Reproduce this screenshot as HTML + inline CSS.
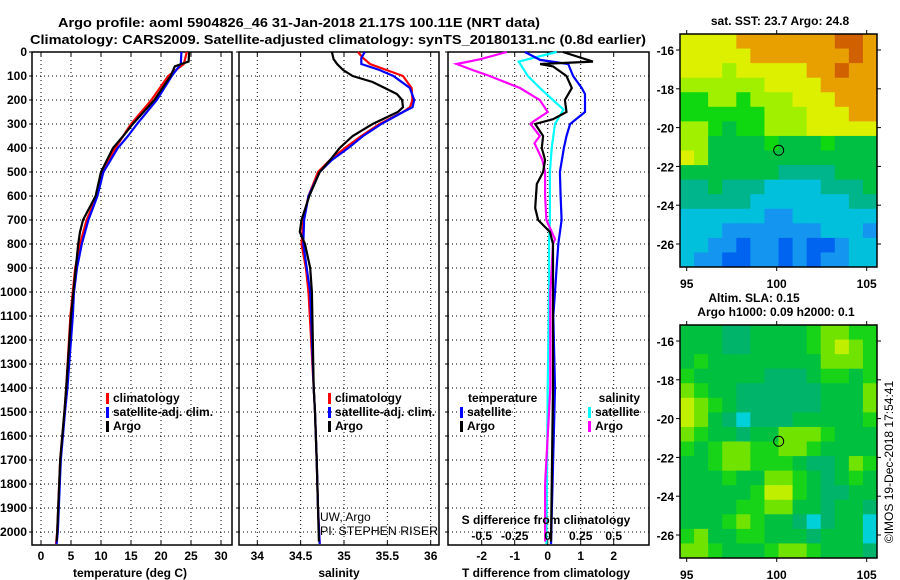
<!DOCTYPE html>
<html><head><meta charset="utf-8"><style>
body{margin:0;background:#fff;}
svg{display:block;font-family:"Liberation Sans",sans-serif;}
.b{font-weight:bold;font-size:13px;}
</style></head><body>
<svg id="c" width="900" height="580" viewBox="0 0 900 580" xmlns="http://www.w3.org/2000/svg">
<rect width="900" height="580" fill="#fff"/>
<text x="299" y="27" class="b" font-size="14" text-anchor="middle" textLength="482" lengthAdjust="spacingAndGlyphs">Argo profile: aoml 5904826_46 31-Jan-2018 21.17S 100.11E (NRT data)</text>
<text x="338" y="44" class="b" font-size="14" text-anchor="middle" textLength="616" lengthAdjust="spacingAndGlyphs">Climatology: CARS2009. Satellite-adjusted climatology: synTS_20180131.nc (0.8d earlier)</text>
<g id="layer"></g>
</svg>
<script>
// ---- depth axis ----
const depthTicks=[0,100,200,300,400,500,600,700,800,900,1000,1100,1200,1300,1400,1500,1600,1700,1800,1900,2000];
// ---- temperature panel ----
const tTicks=[0,5,10,15,20,25,30];
const tDepthClim=[0,50,100,200,300,350,400,500,600,700,800,900,1000,1100,1400,1500,1700,2000,2050];
const tClim=[24.3,23.8,21.2,18.4,15,13.7,12.4,10.1,9.3,7.6,6.5,5.7,5.3,4.9,4.2,3.9,3.2,2.7,2.5];
const tSat=[23.4,23.3,21.8,19.3,16,14.5,12.8,10.4,9.4,7.9,6.8,6.0,5.5,5.3,4.4,4.0,3.3,2.8,2.6];
const tDepthArgo=[0,40,50,60,100,200,300,350,400,500,600,700,750,800,900,1000,1100,1400,1500,1700,2000,2040];
const tArgo=[24.7,24.6,23.4,22.3,21.6,18.9,15.3,13.7,12,10,9.1,7,6.5,6.2,5.8,5.4,5.0,4.2,3.9,3.2,2.7,2.6];
// ---- salinity panel ----
const sTicks=[34,34.5,35,35.5,36];
const sDepth=[0,25,50,75,100,150,200,230,250,300,350,400,450,500,600,700,800,900,1000,1400,1500,1700,1900,2050];
const sClim=[35.16,35.22,35.30,35.49,35.68,35.78,35.79,35.76,35.68,35.41,35.20,35.01,34.84,34.70,34.59,34.53,34.51,34.56,34.59,34.65,34.665,34.685,34.70,34.72];
const sSat=[35.24,35.20,35.20,35.41,35.57,35.76,35.81,35.79,35.68,35.43,35.22,35.05,34.86,34.72,34.59,34.54,34.53,34.57,34.61,34.65,34.665,34.685,34.70,34.72];
const sDepthArgo=[0,30,50,75,100,125,175,200,230,250,300,350,400,450,500,600,700,750,800,900,1000,1400,1500,1700,1900,2040];
const sArgo=[34.86,34.88,34.92,34.99,35.10,35.33,35.61,35.67,35.68,35.62,35.33,35.10,34.95,34.84,34.72,34.60,34.51,34.49,34.55,34.61,34.63,34.65,34.665,34.685,34.70,34.71];
// ---- difference panel ----
const dtTicks=[-2,-1,0,1,2];
const dsTicks=[-0.5,-0.25,0,0.25,0.5];
const dsTickLabels=["-0.5","-0.25","0","0.25","0.5"];
const dDepthSatT=[0,33,50,100,150,175,250,300,350,400,500,600,700,800,900,1000,1100,1400,2050];
const dSatT=[-0.69,-0.23,0.62,0.77,1.03,1.13,1.13,0.68,0.57,0.49,0.37,0.39,0.42,0.32,0.27,0.22,0.17,0.22,0.1];
const dDepthArgoT=[0,40,50,60,100,150,200,250,280,300,350,400,450,500,550,650,700,750,800,1000,1400,2040];
const dArgoT=[0.46,1.37,-0.23,0.16,0.57,0.73,0.52,0.57,0.16,-0.38,-0.14,-0.18,-0.08,-0.14,-0.33,-0.38,-0.29,0.07,0.16,0.16,0.16,0.1];
const dDepthSatS=[0,40,100,150,200,240,300,400,500,700,800,1000,1400,2050];
const dSatS=[0.068,-0.22,-0.15,-0.06,0.04,0.12,0.055,0.03,0.017,0.017,0.01,0.01,0.0,-0.01];
const dDepthArgoS=[0,30,50,75,100,150,200,250,290,300,350,380,450,500,600,700,780,800,900,1000,1400,1800,2040];
const dArgoS=[-0.31,-0.51,-0.69,-0.57,-0.44,-0.21,-0.06,0.0,-0.11,-0.13,-0.06,-0.10,-0.04,-0.02,-0.02,-0.01,0.055,0.04,0.03,0.02,0.02,-0.02,-0.02];
// ---- maps ----
const lonTicks=[95,100,105];
const latTicks=[-16,-18,-20,-22,-24,-26];
const sstGrid=[
[8,8,8,8,9,9,9,9,9,9,9,10,10,9],
[8,8,8,8,8,9,9,9,9,9,9,9,10,9],
[8,8,8,7,8,8,8,8,8,9,9,10,9,9],
[7,7,7,7,7,7,8,8,8,8,9,9,9,9],
[6,6,7,7,6,7,7,7,8,8,8,9,9,9],
[6,6,6,6,6,6,7,7,7,8,8,8,9,9],
[7,7,6,5,6,6,7,7,7,8,8,8,8,8],
[7,7,5,5,5,5,6,5,5,5,6,5,5,5],
[8,7,5,5,5,5,5,5,5,5,5,5,5,5],
[5,5,5,5,5,5,5,4,4,4,4,5,5,5],
[4,4,5,4,4,4,3,3,3,3,4,4,4,5],
[4,4,4,4,4,3,3,3,3,3,3,3,4,4],
[3,3,3,3,3,3,2,2,3,3,3,3,3,3],
[3,3,3,2,2,2,2,2,2,2,3,3,3,2],
[3,3,2,2,1,2,2,1,2,1,1,2,3,3],
[3,2,2,1,1,2,2,1,2,1,2,2,3,3]];
const slaGrid=[
[5,5,5,4,4,5,5,5,5,6,7,7,6,6],
[5,5,5,4,4,5,5,5,5,6,7,8,7,6],
[5,6,5,5,5,5,5,5,5,5,7,7,7,6],
[6,5,5,5,5,5,4,4,4,5,6,6,5,6],
[7,6,5,5,4,4,4,4,4,4,5,5,5,7],
[8,7,6,5,4,4,4,4,4,4,5,5,5,7],
[8,7,5,4,3,4,4,4,5,5,5,5,5,6],
[7,6,5,5,4,5,5,7,7,7,6,5,5,5],
[6,5,6,7,7,6,6,7,7,6,5,5,5,5],
[5,5,6,7,7,6,6,6,5,4,4,5,7,6],
[5,5,5,6,5,5,7,7,6,5,4,5,6,5],
[5,5,5,5,5,6,8,8,6,5,4,4,5,5],
[5,5,5,5,6,6,7,7,5,5,4,5,5,4],
[5,5,5,6,7,6,5,5,4,3,4,5,5,3],
[6,7,5,5,6,6,5,5,5,4,5,5,5,3],
[7,7,6,5,5,5,6,7,7,6,5,5,5,4]];
const floatLon=100.11, floatLat=-21.17;

const NS='http://www.w3.org/2000/svg';
const L=document.getElementById('layer');
function mk(tag,at,parent){const e=document.createElementNS(NS,tag);for(const k in at)e.setAttribute(k,at[k]);(parent||L).appendChild(e);return e;}
function txt(x,y,s,at){const e=mk('text',Object.assign({x:x,y:y,'font-size':12,'font-weight':'bold'},at||{}));e.textContent=s;return e;}

const Y0=52, Y1=545;
const yD=d=>Y0+0.24*d;
const xT=t=>41+6*t;
const xS=s=>257.3+86.7*(s-34);
const xDT=v=>547.7+33*v;
const xDS=v=>547.7+132*v;

function panel(x0,x1,name){
  const r=mk('rect',{x:x0,y:Y0,width:x1-x0,height:Y1-Y0,fill:'none',stroke:'#000','stroke-width':1.5});
  
  
  depthTicks.forEach(d=>{ if(d>0){ const g=mk('line',{x1:x0,x2:x1,y1:yD(d),y2:yD(d),stroke:'#000','stroke-width':1,'stroke-dasharray':'1,3'});
    
    }
    mk('line',{x1:x0-3,x2:x0,y1:yD(d),y2:yD(d),stroke:'#000'});});
}
function vgrid(vals,fx){vals.forEach(v=>{const g=mk('line',{x1:fx(v),x2:fx(v),y1:Y0,y2:Y1,stroke:'#000','stroke-width':1,'stroke-dasharray':'1,3'});
  
  
  mk('line',{x1:fx(v),x2:fx(v),y1:Y0,y2:Y0+4,stroke:'#000'});mk('line',{x1:fx(v),x2:fx(v),y1:Y1-4,y2:Y1,stroke:'#000'});});}
function line(ds,vs,fx,col,name){const p=ds.map((d,i)=>fx(vs[i]).toFixed(1)+','+yD(d).toFixed(1)).join(' ');
  const e=mk('polyline',{points:p,fill:'none',stroke:col,'stroke-width':2.2,'stroke-linejoin':'miter'});
  
  }

// panel 1
panel(32,232,'temperature-panel');
vgrid(tTicks,xT);
depthTicks.forEach(d=>{const s=String(d);const at={'text-anchor':'end'};if(s.length===4){at.textLength=27;at.lengthAdjust='spacingAndGlyphs';}
  const t=txt(27,yD(d)+4,s,at);
  
  });
tTicks.forEach(v=>{const t=txt(xT(v),560,String(v),{'text-anchor':'middle'});
  
  });
line(tDepthClim,tClim,xT,'#f00','temperature-climatology-line');
line(tDepthClim,tSat,xT,'#00f','temperature-satellite-line');
line(tDepthArgo,tArgo,xT,'#000','temperature-argo-line');
let t1=txt(130,577,'temperature (deg C)',{'text-anchor':'middle'});



// panel 2
panel(239,439,'salinity-panel');
vgrid(sTicks,xS);
sTicks.forEach(v=>{const t=txt(xS(v),560,String(v),{'text-anchor':'middle'});
  
  });
line(sDepth,sClim,xS,'#f00','salinity-climatology-line');
line(sDepth,sSat,xS,'#00f','salinity-satellite-line');
line(sDepthArgo,sArgo,xS,'#000','salinity-argo-line');
let t2=txt(339,577,'salinity',{'text-anchor':'middle'});


let c1=txt(320,521,'UW, Argo',{'font-weight':'normal','font-size':12});


let c2=txt(320,535,'PI: STEPHEN RISER',{'font-weight':'normal','font-size':12,textLength:118,lengthAdjust:'spacingAndGlyphs'});



// legends panels 1 & 2
function leg(x,y,col,s,name){mk('rect',{x:x,y:y-9,width:3,height:11,fill:col});
  const t=txt(x+7,y,s,{'font-size':12});
  
  }
[[106,'temperature'],[328,'salinity']].forEach(([x,p])=>{
  leg(x,402,'#f00','climatology',p+'-legend-climatology');
  leg(x,416,'#00f','satellite-adj. clim.',p+'-legend-satellite');
  leg(x,430,'#000','Argo',p+'-legend-argo');});

// panel 3
panel(448,649,'difference-panel');
vgrid(dtTicks,xDT);
line(dDepthSatS,dSatS,xDS,'#0ff','salinity-satellite-diff-line');
line(dDepthArgoS,dArgoS,xDS,'#f0f','salinity-argo-diff-line');
line(dDepthSatT,dSatT,xDT,'#00f','temperature-satellite-diff-line');
line(dDepthArgoT,dArgoT,xDT,'#000','temperature-argo-diff-line');
dtTicks.forEach(v=>{const t=txt(xDT(v),560,String(v),{'text-anchor':'middle'});
  
  });
dsTicks.forEach((v,i)=>{const t=txt(xDS(v),540,dsTickLabels[i],{'text-anchor':'middle'});
  
  });
let t3=txt(546,577,'T difference from climatology',{'text-anchor':'middle'});


let t4=txt(546,524,'S difference from climatology',{'text-anchor':'middle'});


let t5=txt(468,402,'temperature');


let t6=txt(640,402,'salinity',{'text-anchor':'end'});


leg(460,416,'#00f','satellite','diff-legend-t-satellite');
leg(460,430,'#000','Argo','diff-legend-t-argo');
leg(588,416,'#0ff','satellite','diff-legend-s-satellite');
leg(588,430,'#f0f','Argo','diff-legend-s-argo');

// maps
const palSST=['#0038c8','#0064f0','#1496f0','#00c0dc','#00b48c','#00c044','#10d810','#a0f000','#dcf000','#e8a000','#d06000'];
const palSLA=['#0038c8','#0064f0','#1496f0','#00d0d8','#00b46a','#00c040','#18d418','#70e400','#c0f000','#e8e800','#e8a000'];
function map(top,grid,name,pal){
  const mx0=680,mx1=877,my0=top,my1=top+233;
  const xL=lon=>776.7+18*(lon-100);
  const yL=lat=>top+16+19.4*(-16-lat);
  const rows=grid.length, cols=grid[0].length;
  const cw=(mx1-mx0)/cols, ch=(my1-my0)/rows;
  grid.forEach((row,r)=>row.forEach((v,c)=>{
    const e=mk('rect',{x:(mx0+c*cw).toFixed(2),y:(my0+r*ch).toFixed(2),width:(cw+0.5).toFixed(2),height:(ch+0.5).toFixed(2),fill:pal[v]});
    
    }));
  const f=mk('rect',{x:mx0,y:my0,width:mx1-mx0,height:my1-my0,fill:'none',stroke:'#000','stroke-width':1.5});
  
  
  lonTicks.forEach(l=>{mk('line',{x1:xL(l),x2:xL(l),y1:my0-4,y2:my0,stroke:'#000'});mk('line',{x1:xL(l),x2:xL(l),y1:my1,y2:my1+4,stroke:'#000'});
    const t=txt(xL(l),my1+21,String(l),{'text-anchor':'middle'});
    
    });
  latTicks.forEach(l=>{mk('line',{x1:mx0-4,x2:mx0,y1:yL(l),y2:yL(l),stroke:'#000'});mk('line',{x1:mx1,x2:mx1+4,y1:yL(l),y2:yL(l),stroke:'#000'});
    const t=txt(674,yL(l)+5,String(l),{'text-anchor':'end'});
    
    });
  const c=mk('circle',{cx:xL(floatLon),cy:yL(floatLat),r:5,fill:'none',stroke:'#000','stroke-width':1});
  
  
}
map(34,sstGrid,'sst-map',palSST);
map(325,slaGrid,'sla-map',palSLA);
let m1=txt(780,25,'sat. SST: 23.7 Argo: 24.8',{'text-anchor':'middle','font-size':12});


let m2=txt(754,302,'Altim. SLA: 0.15',{'text-anchor':'middle','font-size':12});


let m3=txt(776,316,'Argo h1000: 0.09 h2000: 0.1',{'text-anchor':'middle','font-size':12});


let cr=txt(0,0,'©IMOS 19-Dec-2018 17:54:41',{'font-weight':'normal','font-size':12,'text-anchor':'middle',transform:'translate(893,462) rotate(-90)'});


</script>
</body></html>
